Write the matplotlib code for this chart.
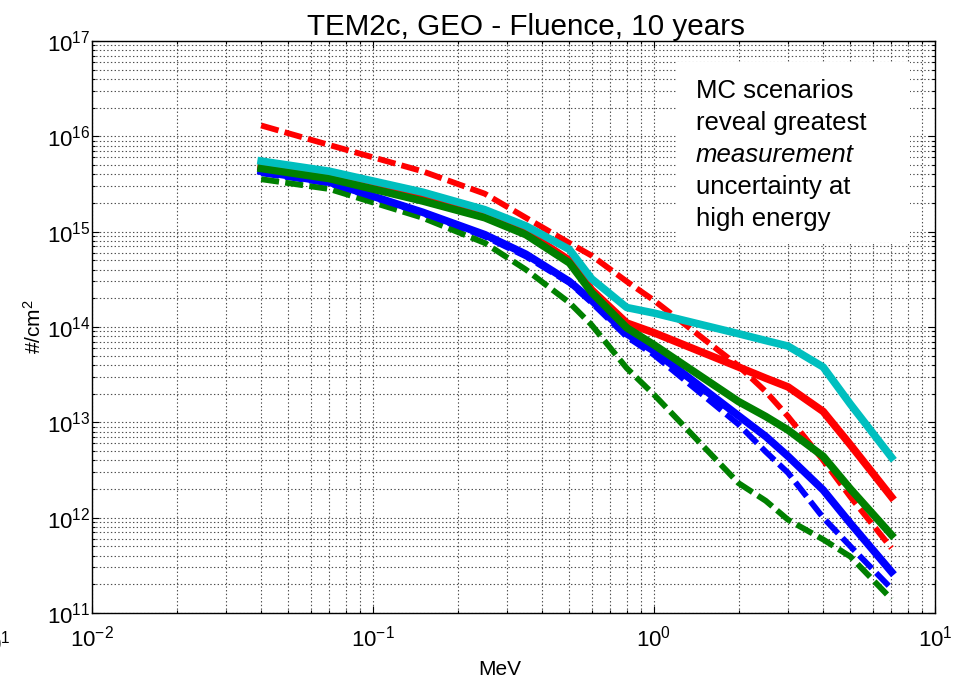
import matplotlib
matplotlib.use("Agg")
import matplotlib.pyplot as plt
from matplotlib.patches import Rectangle
from matplotlib.ticker import LogLocator, NullFormatter

plt.rcParams['font.family'] = ['Liberation Sans', 'DejaVu Sans']
plt.rcParams['mathtext.default'] = 'regular'
plt.rcParams['lines.scale_dashes'] = False

# electron energy grid, MeV
energy = [0.04, 0.07, 0.15, 0.25, 0.35, 0.5, 0.6, 0.8, 1.0, 2.0, 2.5, 3.0, 4.0, 5.0, 7.0]

# 10-year fluence, #/cm^2
red_solid = [4.8e15, 3.9e15, 2.3e15, 1.5e15, 1.0e15, 5.0e14, 2.45e14, 1.1e14,
             8.7e13, 3.8e13, 2.9e13, 2.35e13, 1.3e13, 5.8e12, 1.65e12]
red_dash = [1.3e16, 8.1e15, 4.3e15, 2.5e15, 1.4e15, 7.6e14, 5.6e14, 3.0e14,
            1.9e14, 3.9e13, 2.1e13, 1.15e13, 4.0e12, 1.65e12, 4.8e11]
green_solid = [4.6e15, 3.6e15, 2.1e15, 1.4e15, 9.3e14, 4.7e14, 2.3e14, 9.8e13,
               6.5e13, 1.65e13, 1.15e13, 8.3e12, 4.4e12, 2.0e12, 6.6e11]
green_dash = [3.55e15, 2.8e15, 1.4e15, 7.6e14, 4.0e14, 1.8e14, 1.05e14, 3.7e13,
              1.95e13, 2.3e12, 1.5e12, 9.5e11, 5.9e11, 3.9e11, 1.4e11]
blue_solid = [4.3e15, 3.3e15, 1.6e15, 9.3e14, 5.8e14, 3.0e14, 1.9e14, 8.5e13,
              5.6e13, 1.17e13, 7.1e12, 4.4e12, 1.95e12, 8.7e11, 2.7e11]
blue_dash = [4.1e15, 3.2e15, 1.55e15, 8.9e14, 5.5e14, 2.9e14, 1.8e14, 7.9e13,
             5.1e13, 9.5e12, 4.9e12, 2.95e12, 1.0e12, 5.0e11, 1.8e11]
cyan_solid = [5.5e15, 4.3e15, 2.6e15, 1.7e15, 1.15e15, 6.5e14, 3.2e14, 1.6e14,
              1.4e14, 8.5e13, 7.2e13, 6.3e13, 3.8e13, 1.55e13, 4.3e12]

note_lines = ["MC scenarios", "reveal greatest", "measurement",
              "uncertainty at", "high energy"]

RED = (1, 0, 0)
GREEN = (0, 0.5, 0)
BLUE = (0, 0, 1)
CYAN = (0, 0.75, 0.75)


def main():
    fig = plt.figure(figsize=(9.65, 6.81), dpi=100)
    ax = fig.add_axes([0.0953, 0.0999, 0.8736, 0.8399])

    dash = (0, (13, 4.5))
    ax.loglog(energy, red_dash, color=RED, lw=4.2, ls=dash, zorder=3)
    ax.loglog(energy, blue_dash, color=BLUE, lw=4.2, ls=dash, zorder=3)
    ax.loglog(energy, green_dash, color=GREEN, lw=4.2, ls=dash, zorder=3)
    ax.loglog(energy, red_solid, color=RED, lw=5.5, zorder=4)
    ax.loglog(energy, blue_solid, color=BLUE, lw=5.5, zorder=4)
    ax.loglog(energy, green_solid, color=GREEN, lw=5.5, zorder=5)
    ax.loglog(energy, cyan_solid, color=CYAN, lw=5.5, zorder=6)

    ax.set_xlim(1e-2, 1e1)
    ax.set_ylim(1e11, 1e17)
    ax.xaxis.set_major_locator(LogLocator(base=10, numticks=10))
    ax.yaxis.set_major_locator(LogLocator(base=10, numticks=10))
    ax.xaxis.set_minor_locator(LogLocator(base=10, subs=range(2, 10), numticks=20))
    ax.yaxis.set_minor_locator(LogLocator(base=10, subs=range(2, 10), numticks=20))
    ax.xaxis.set_minor_formatter(NullFormatter())
    ax.yaxis.set_minor_formatter(NullFormatter())

    ax.grid(True, which='both', color='0.3', ls=':', lw=0.8, zorder=1)
    ax.tick_params(which='both', direction='in', top=True, right=True,
                   labelsize=16, width=0.8)
    ax.tick_params(which='major', length=5)
    ax.tick_params(which='minor', length=2.5)
    ax.tick_params(axis='x', pad=9)
    ax.tick_params(axis='y', pad=1)
    for sp in ax.spines.values():
        sp.set_linewidth(1.0)

    ax.set_title("TEM2c, GEO - Fluence, 10 years", fontsize=21.3, pad=3, x=0.515)
    ax.set_xlabel("MeV", fontsize=15)
    ax.xaxis.set_label_coords(0.484, -0.083)
    ax.set_ylabel("#/cm$^2$", fontsize=15)
    ax.yaxis.set_label_coords(-0.056, 0.5)

    # white panel behind the note
    ax.add_patch(Rectangle((0.694, 0.649), 0.276, 0.314, transform=ax.transAxes,
                           facecolor='white', edgecolor='none', zorder=7))
    for i, line in enumerate(note_lines):
        ax.text(0.7165, 0.912 - i * 0.0559, line, transform=ax.transAxes,
                fontsize=18.5, va='center', ha='left',
                style='italic' if line == "measurement" else 'normal',
                zorder=8)

    # clipped label fragment at the left edge
    fig.text(0.011, 0.055, "$10^{1}$", fontsize=16, ha='right', va='center')

    fig.savefig("out.png", dpi=100)


if __name__ == "__main__":
    main()
